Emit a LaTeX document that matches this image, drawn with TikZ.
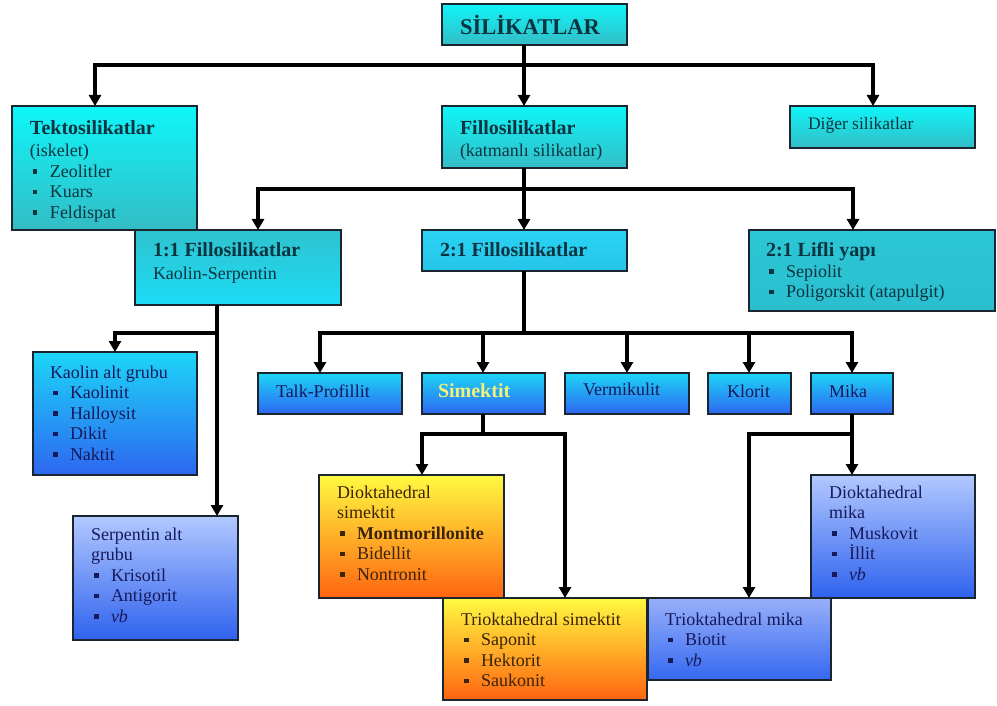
\documentclass[tikz,border=0pt]{standalone}
\usepackage{fontspec}
\setmainfont{Liberation Serif}
\usetikzlibrary{arrows.meta}
\definecolor{boxline}{HTML}{1A2530}
\definecolor{cyTop}{HTML}{0EF6F8}
\definecolor{cyBot}{HTML}{34BCC6}
\definecolor{tlTop}{HTML}{2FC2CE}
\definecolor{tlBot}{HTML}{1CDCF6}
\definecolor{lfTop}{HTML}{2CC6D4}
\definecolor{lfBot}{HTML}{2ABFD0}
\definecolor{mdTop}{HTML}{2AD4F4}
\definecolor{mdBot}{HTML}{26C4EA}
\definecolor{bcTop}{HTML}{1CD6F8}
\definecolor{bcBot}{HTML}{2E66F0}
\definecolor{lbTop}{HTML}{B2C8FF}
\definecolor{lbBot}{HTML}{2F62EE}
\definecolor{mbTop}{HTML}{98B0FA}
\definecolor{mbBot}{HTML}{3568F0}
\definecolor{orTop}{HTML}{FFFA40}
\definecolor{orBot}{HTML}{FF6410}
\definecolor{txCy}{HTML}{0C3440}
\definecolor{txBl}{HTML}{16195A}
\definecolor{txOr}{HTML}{3A240A}
\definecolor{simY}{HTML}{F2F27A}
\newcommand{\bul}[1]{\hspace*{3pt}\makebox[17pt][l]{\raisebox{3.5pt}{\rule{4.5pt}{4.5pt}}}#1}
\newcommand{\ttl}[1]{{\fontsize{20}{20.5}\selectfont\bfseries #1}}
\newcommand{\lines}[2]{\parbox[t]{#1}{\raggedright #2}}
\begin{document}
\begin{tikzpicture}[x=1pt,y=-1pt,
  box/.style={draw=boxline, line width=1.6pt, inner sep=0pt, outer sep=0pt, anchor=north west},
  cyanbox/.style={box, top color=cyTop, bottom color=cyBot},
  tealbox/.style={box, top color=tlTop, bottom color=tlBot},
  liflibox/.style={box, top color=lfTop, bottom color=lfBot},
  midbox/.style={box, top color=mdTop, bottom color=mdBot},
  bluebox/.style={box, top color=bcTop, bottom color=bcBot},
  lightbluebox/.style={box, top color=lbTop, bottom color=lbBot},
  mikabox/.style={box, top color=mbTop, bottom color=mbBot},
  orangebox/.style={box, top color=orTop, bottom color=orBot},
  txt/.style={inner sep=0pt, outer sep=0pt, anchor=base west, font=\fontsize{18}{20.5}\selectfont},
  ln/.style={draw=black, line width=3.2pt},
  arr/.style={ln, -{Triangle[width=12pt,length=11pt]}}
]
\fill[white] (0,0) rectangle (997,706);
\useasboundingbox (0,0) rectangle (997,706);

% ---------- boxes ----------
\node[cyanbox, minimum width=185pt, minimum height=41pt] (sil) at (442,4) {};
\node[cyanbox, minimum width=185pt, minimum height=124pt] (tekto) at (12,106) {};
\node[cyanbox, minimum width=185pt, minimum height=62pt] (fil) at (442,106) {};
\node[cyanbox, minimum width=185pt, minimum height=42pt] (diger) at (790,106) {};
\node[tealbox, minimum width=206pt, minimum height=75pt] (one) at (135,230) {};
\node[midbox, minimum width=205pt, minimum height=41pt] (two) at (422,230) {};
\node[liflibox, minimum width=246pt, minimum height=81pt] (lifli) at (749,230) {};
\node[bluebox, minimum width=164pt, minimum height=123pt] (kaolin) at (33,352) {};
\node[lightbluebox, minimum width=165pt, minimum height=124pt] (serp) at (73,516) {};
\node[bluebox, minimum width=144pt, minimum height=41pt] (talk) at (258,373) {};
\node[bluebox, minimum width=123pt, minimum height=41pt] (sim) at (422,373) {};
\node[bluebox, minimum width=124pt, minimum height=41pt] (verm) at (565,373) {};
\node[bluebox, minimum width=83pt, minimum height=41pt] (klorit) at (708,373) {};
\node[bluebox, minimum width=82pt, minimum height=41pt] (mika) at (811,373) {};
\node[orangebox, minimum width=185pt, minimum height=123pt] (dsim) at (319,475) {};
\node[lightbluebox, minimum width=164pt, minimum height=123pt] (dmika) at (811,475) {};
\node[orangebox, minimum width=204pt, minimum height=102pt] (tsim) at (443,598) {};
\node[mikabox, minimum width=183pt, minimum height=82pt] (tmika) at (648,598) {};

% ---------- texts ----------
\node[txt, anchor=base, text=txCy, font=\fontsize{22.5}{24}\selectfont\bfseries] (silt) at (530,35) {SİLİKATLAR};
\node[txt, text=txCy] (tektot) at (30,135) {\lines{170pt}{\ttl{Tektosilikatlar}\\[1.5pt] (iskelet)\\ \bul{Zeolitler}\\ \bul{Kuars}\\ \bul{Feldispat}}};
\node[txt, text=txCy] (filt) at (460,135) {\lines{170pt}{\ttl{Fillosilikatlar}\\[1.5pt] (katmanlı silikatlar)}};
\node[txt, text=txCy, font=\fontsize{17.5}{20.5}\selectfont] (digert) at (808,130) {Diğer silikatlar};
\node[txt, text=txCy] (onet) at (153,257) {\lines{185pt}{\ttl{1:1 Fillosilikatlar}\\[2.5pt] Kaolin-Serpentin}};
\node[txt, text=txCy] (twot) at (440,257) {\ttl{2:1 Fillosilikatlar}};
\node[txt, text=txCy] (liflit) at (766,257) {\lines{225pt}{\ttl{2:1 Lifli yapı}\\ \bul{Sepiolit}\\ \bul{Poligorskit (atapulgit)}}};
\node[txt, text=txBl] (kaolint) at (50,378) {\lines{145pt}{Kaolin alt grubu\\ \bul{Kaolinit}\\ \bul{Halloysit}\\ \bul{Dikit}\\ \bul{Naktit}}};
\node[txt, text=txBl] (serpt) at (91,540) {\lines{145pt}{Serpentin alt\\ grubu\\ \bul{Krisotil}\\ \bul{Antigorit}\\ \bul{\textit{vb}}}};
\node[txt, text=txBl] (talkt) at (276,397) {Talk-Profillit};
\node[txt, text=simY, font=\fontsize{20}{20.5}\selectfont\bfseries] (simt) at (438,397) {Simektit};
\node[txt, text=txBl] (vermt) at (583,395) {Vermikulit};
\node[txt, text=txBl] (klorit-t) at (727,397) {Klorit};
\node[txt, text=txBl] (mikat) at (829,397) {Mika};
\node[txt, text=txOr] (dsimt) at (337,498) {\lines{165pt}{Dioktahedral\\ simektit\\ \bul{\textbf{Montmorillonite}}\\ \bul{Bidellit}\\ \bul{Nontronit}}};
\node[txt, text=txOr] (tsimt) at (461,625) {\lines{185pt}{Trioktahedral simektit\\ \bul{Saponit}\\ \bul{Hektorit}\\ \bul{Saukonit}}};
\node[txt, text=txBl] (tmikat) at (665,625) {\lines{165pt}{Trioktahedral mika\\ \bul{Biotit}\\ \bul{\textit{vb}}}};
\node[txt, text=txBl] (dmikat) at (829,498) {\lines{145pt}{Dioktahedral\\ mika\\ \bul{Muskovit}\\ \bul{İllit}\\ \bul{\textit{vb}}}};

% ---------- connectors ----------
\coordinate (j1) at (524,65);
\draw[arr] (sil.south -| j1) -- (fil.north -| j1);
\draw[arr] (j1) -| (tekto.north -| 95,0);
\draw[arr] (j1) -| (diger.north -| 873,0);

\coordinate (j2) at (524,189);
\draw[arr] (fil.south -| j2) -- (two.north -| j2);
\draw[arr] (j2) -| (one.north -| 258,0);
\draw[arr] (j2) -| (lifli.north -| 853,0);

\coordinate (j3) at (217,333);
\draw[ln] (one.south -| j3) -- (j3);
\draw[arr] (j3) -| (kaolin.north -| 115,0);
\draw[arr] (j3) -- (serp.north -| j3);

\coordinate (j4) at (524,333);
\draw[ln] (two.south -| j4) -- (j4);
\draw[arr] (j4) -| (talk.north -| 320,0);
\draw[arr] (j4 -| 483,0) -- (sim.north -| 483,0);
\draw[arr] (j4 -| 627,0) -- (verm.north -| 627,0);
\draw[arr] (j4 -| 749,0) -- (klorit.north -| 749,0);
\draw[arr] (j4) -| (mika.north -| 852,0);

\coordinate (j5) at (483,434);
\draw[ln] (sim.south -| j5) -- (j5);
\draw[arr] (j5) -| (dsim.north -| 422,0);
\draw[arr] (j5) -| (tsim.north -| 565,0);

\coordinate (j6) at (852,434);
\draw[arr] (mika.south -| j6) -- (dmika.north -| j6);
\draw[arr] (j6) -| (tmika.north -| 749,0);
\end{tikzpicture}
\end{document}
